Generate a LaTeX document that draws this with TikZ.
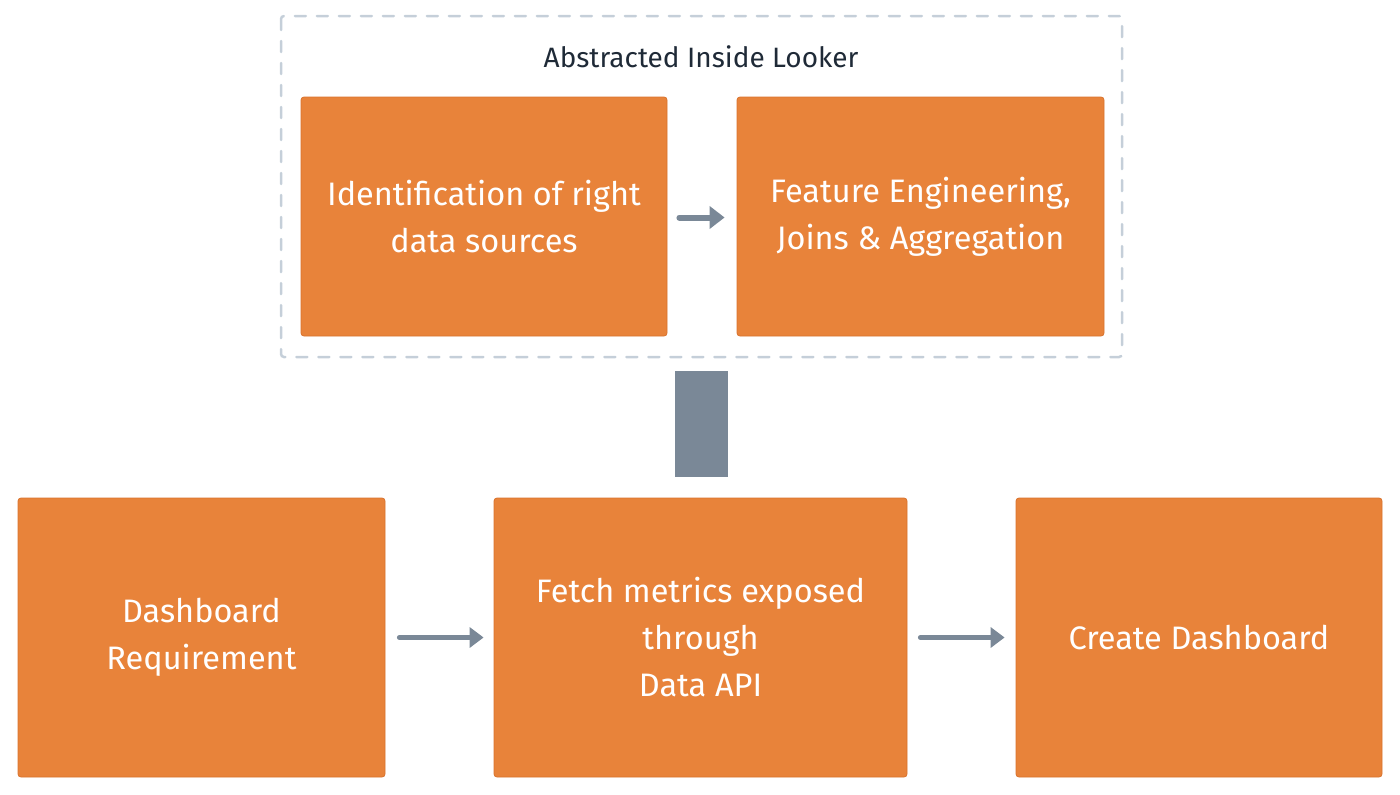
\documentclass[tikz,border=0pt]{standalone}
\usepackage{fontspec}
\setmainfont{Fira Sans}
\usetikzlibrary{arrows.meta}
\definecolor{boxorange}{HTML}{E8833A}
\definecolor{boxedge}{HTML}{D9722C}
\definecolor{arrowgray}{HTML}{7A8897}
\definecolor{frameblue}{HTML}{C5CFD9}
\definecolor{titlenavy}{HTML}{1F2A37}
\begin{document}
\begin{tikzpicture}[x=1pt,y=-1pt,
  stepbox/.style={draw=boxedge,line width=0.8pt,fill=boxorange,rounded corners=3pt,text=white,align=center,
    inner sep=0pt,font=\fontsize{32.5}{47}\selectfont},
  flowarrow/.style={draw=arrowgray,line width=5pt,line cap=round,-{Triangle[length=14pt,width=20pt,line cap=butt]}},
]
\useasboundingbox (0,0) rectangle (1400,795);
% dashed frame
\draw[frameblue,line width=2.5pt,dash pattern=on 11pt off 11pt,line cap=round,rounded corners=3pt]
  (281,16) rectangle (1122,357);
\node[text=titlenavy,font=\fontsize{28}{32}\selectfont] (title) at (701,57) {Abstracted Inside Looker};
% top boxes
\node[stepbox,minimum width=366pt,minimum height=239pt] (ident) at (484,216.5) {Identification of right\\data sources};
\node[stepbox,minimum width=367pt,minimum height=239pt] (feat) at (920.5,216.5) {Feature Engineering,\\Joins \& Aggregation};
\draw[flowarrow,line width=6pt,-{Triangle[length=15pt,width=22pt]}] ([xshift=12pt,yshift=-1pt]ident.east) -- ([xshift=-12pt,yshift=-1pt]feat.west);
% vertical connector block
\node[fill=arrowgray,inner sep=0pt,minimum width=53pt,minimum height=106pt] (conn) at (701.5,424) {};
% bottom boxes
\node[stepbox,minimum width=367pt,minimum height=279pt] (dash) at (201.5,637.5) {Dashboard\\Requirement};
\node[stepbox,minimum width=413pt,minimum height=279pt] (fetch) at (700.5,637.5) {Fetch metrics exposed\\through\\Data API};
\node[stepbox,minimum width=366pt,minimum height=279pt] (create) at (1199,637.5) {Create Dashboard};
\draw[flowarrow] ([xshift=14pt]dash.east) -- ([xshift=-10pt]fetch.west);
\draw[flowarrow] ([xshift=13pt]fetch.east) -- ([xshift=-11pt]create.west);
\end{tikzpicture}
\end{document}
